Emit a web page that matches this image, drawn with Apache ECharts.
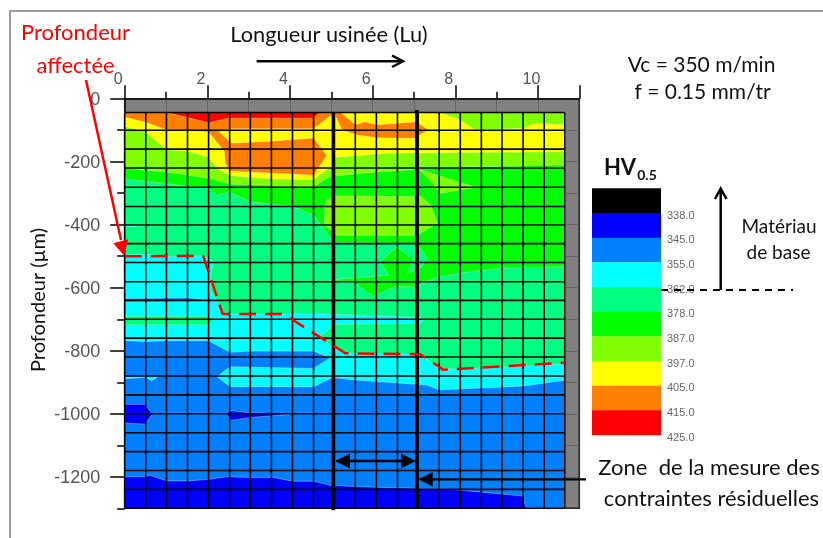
<!DOCTYPE html>
<html>
<head>
<meta charset="utf-8">
<style>html,body{margin:0;padding:0;background:#fff}#c{width:823px;height:538px}</style>
<script src="https://cdn.jsdelivr.net/npm/echarts@6/dist/echarts.min.js"></script>
</head>
<body>
<div id="c"></div>
<script>
// Hardness scale
const legendColors = ['#000000','#0000ff','#0080ff','#00ffff','#00ff80','#00ff00','#80ff00','#ffff00','#ff8000','#ff0000'];
const legendLabels = ['338.0','345.0','355.0','362.0','378.0','387.0','397.0','405.0','415.0','425.0'];
const legendTicks = [1,2,3,4,5,6,7,8,9,10];

// Axis ticks
const xMajorTicks = [0,2,4,6,8,10,11];
const xMinorTicks = [1,3,5,7,9];
const yMajorTicks = [0,-200,-400,-600,-800,-1000,-1200];
const yMinorTicks = [-100,-300,-500,-700,-900,-1100,-1300];

// Measurement grid
const gridX = [0,0.51,1.01,1.52,2.03,2.54,3.04,3.55,4.06,4.57,5.07,5.58,6.09,6.60,7.10,7.61,8.12,8.63,9.13,9.64,10.15,10.65];
const gridY = [-44,-100,-160,-220,-281,-342,-401,-460,-520,-581,-640,-700,-760,-820,-880,-940,-1000,-1060,-1120,-1180,-1240,-1300];
const topDepth = -44;
const rightEdge = 10.65;

// Lower boundary of each hardness band, left to right (mm, µm)
const floor345 = [[0,-1300],[10.65,-1300]];
const floor355 = [[0,-1200],[.51,-1200],[.61,-1195],[1.02,-1213],[1.53,-1213],[2.03,-1208],[2.47,-1200],[3.04,-1202],[3.60,-1202],[4.06,-1214],[4.57,-1214],[4.97,-1227],[5.58,-1231],[6.83,-1236],[7.92,-1240],[9.62,-1261],[9.71,-1297],[9.72,-1300],[10.65,-1300]];
const floor362 = [[0,-768],[.51,-771],[1.02,-768],[2.03,-768],[2.55,-805],[3.04,-801],[4.57,-801],[4.97,-823],[4.57,-856],[2.55,-851],[2.23,-882],[2.55,-914],[4.57,-914],[4.99,-887],[5.12,-886],[5.58,-893],[7.32,-909],[7.60,-924],[9.66,-912],[10.65,-893]];
const floor378 = [[0,-496],[.51,-494],[1.02,-501],[1.90,-499],[2.15,-517],[2.07,-565],[2.07,-607],[2.31,-660],[2.39,-683],[3.84,-683],[4.73,-683],[7.15,-694],[7.23,-702],[7.15,-713],[5.14,-716],[5.01,-721],[4.73,-755],[5.05,-792],[5.34,-808],[7.15,-810],[7.60,-856],[8.20,-858],[10.65,-842]];
const floor387 = [[0,-255],[.49,-262],[1.54,-278],[2.03,-283],[2.23,-307],[2.51,-296],[3.04,-327],[4.08,-343],[4.57,-369],[5.01,-448],[5.05,-457],[5.80,-457],[7.07,-462],[7.32,-507],[7.19,-533],[6.85,-554],[6.99,-512],[6.59,-470],[6.18,-517],[6.39,-560],[4.93,-575],[5.58,-586],[6.02,-628],[6.51,-597],[7.07,-597],[7.27,-581],[7.60,-565],[8.36,-549],[9.13,-538],[10.65,-533]];
const floor397 = [[0,-220],[1.02,-233],[2.03,-252],[2.55,-271],[3.52,-275],[4.57,-281],[4.89,-252],[5.09,-245],[5.78,-236],[7.07,-224],[8.53,-216],[10.65,-210]];
const floor405 = [[0,-88],[.49,-103],[1.02,-162],[1.54,-167],[2.03,-186],[2.23,-220],[2.55,-244],[3.52,-254],[4.57,-257],[4.89,-225],[5.01,-218],[5.09,-186],[6.35,-173],[8.08,-171],[10.65,-168]];

// Closed patches (mm, µm)
const patchBlueA = [[0,-970],[.49,-970],[.67,-1001],[.49,-1033],[0,-1029]];
const patchBlueB = [[2.45,-998],[2.55,-990],[3.04,-997],[3.98,-1002],[3.04,-1012],[2.57,-1021]];
const patchCyanA = [[0,-884],[.51,-880],[.78,-884],[.65,-895],[.51,-884],[0,-889]];
const patchMidBlue = [[0,-634],[1.51,-632],[2.02,-639],[2.36,-680],[2.02,-644],[0,-645]];
const patchTeal = [[0,-690],[2.03,-690],[2.15,-704],[2.03,-718],[0,-718]];
const patchCyanB = [[0,-401],[.49,-403],[0,-407]];
const patchLimeA = [[4.85,-343],[4.89,-321],[5.14,-309],[7.19,-311],[7.40,-337],[7.57,-395],[7.07,-433],[5.14,-433],[4.83,-401]];
const patchLimeB = [[7.15,-226],[8.49,-281],[7.64,-300],[7.52,-279]];
const patchLimeC = [[7.64,-44],[8.12,-68],[8.49,-99],[9.66,-94],[9.90,-78],[10.65,-83],[10.65,-44]];
const patchOrangeA = [[0,-44],[5.00,-44],[5.01,-51],[4.57,-95],[2.55,-95],[2.29,-106],[2.59,-141],[3.52,-135],[4.57,-125],[4.89,-180],[4.57,-243],[3.52,-236],[2.55,-230],[2.43,-204],[2.41,-167],[2.03,-106],[1.54,-102],[1.02,-99],[.49,-74],[0,-59]];
const patchOrangeB = [[5.09,-44],[5.24,-44],[5.58,-83],[5.82,-73],[6.10,-83],[7.07,-73],[7.35,-99],[6.99,-126],[6.10,-124],[5.62,-115],[5.26,-99],[5.09,-52]];
const patchRed = [[1.02,-44],[2.03,-76],[2.51,-62],[4.57,-62],[4.73,-44]];

// Annotations in data units
const affectedDepth = [[0,-500],[1.90,-499],[2.37,-683],[3.84,-683],[5.34,-808],[7.15,-811],[7.60,-850],[7.70,-860],[10.65,-838]];
const zoneStart = [[5.05,-44],[5.05,-1306]];
const zoneEnd = [[7.07,-36],[7.07,-1300]];

let order = 2;
function poly(points, color) {
  return {
    type: 'custom', coordinateSystem: 'cartesian2d', xAxisIndex: 0, yAxisIndex: 0,
    silent: true, animation: false, clip: false, z: order++, data: [points[0]],
    encode: {x: 0, y: 1},
    renderItem: function (params, api) {
      return {type: 'polygon', shape: {points: points.map(p => api.coord(p))},
        style: {fill: color, stroke: 'rgba(255,255,255,0.35)', lineWidth: 1}};
    }
  };
}
function band(floor, color) {
  return poly(floor.concat([[rightEdge, topDepth], [0, topDepth]]), color);
}
function segments(list, width, color, z) {
  return {
    type: 'custom', coordinateSystem: 'cartesian2d', xAxisIndex: 0, yAxisIndex: 0,
    silent: true, animation: false, clip: false, z: z, data: list,
    encode: {x: [0, 2], y: [1, 3]},
    renderItem: function (params, api) {
      const a = api.coord([api.value(0), api.value(1)]);
      const b = api.coord([api.value(2), api.value(3)]);
      return {type: 'line', shape: {x1: a[0], y1: a[1], x2: b[0], y2: b[1]},
        style: {stroke: color, lineWidth: width}};
    }
  };
}
const c = legendColors;
const series = [
  band(floor345, c[1]),
  band(floor355, c[2]),
  poly(patchBlueA, c[1]), poly(patchBlueB, c[1]), poly(patchCyanA, c[3]),
  band(floor362, c[3]),
  poly(patchMidBlue, c[2]),
  band(floor378, c[4]),
  poly(patchTeal, c[4]), poly(patchCyanB, c[3]),
  band(floor387, c[5]),
  band(floor397, c[6]),
  poly(patchLimeA, c[6]), poly(patchLimeB, c[6]),
  band(floor405, c[7]),
  poly(patchLimeC, c[6]),
  poly(patchOrangeA, c[8]), poly(patchOrangeB, c[8]),
  poly(patchRed, c[9])
];
const vLines = gridX.map(x => [x, gridY[0], x, gridY[gridY.length - 1]]);
const hLines = gridY.map(y => [gridX[0], y, gridX[gridX.length - 1], y]);
series.push(segments(vLines.concat(hLines), 1.6, '#050505', 40));
series.push(segments([zoneStart[0].concat(zoneStart[1]), zoneEnd[0].concat(zoneEnd[1])], 3.6, '#000', 41));
series.push({
  type: 'line', xAxisIndex: 0, yAxisIndex: 0, data: affectedDepth, symbol: 'none', silent: true,
  animation: false, z: 42, clip: false,
  lineStyle: {color: '#ff0000', width: 2.5, type: [17, 9]}
});
// colour scale
series.push({
  type: 'custom', coordinateSystem: 'cartesian2d', xAxisIndex: 2, yAxisIndex: 2, silent: true, animation: false,
  data: legendColors.map((col, i) => [0, i]), encode: {x: 0, y: 1},
  renderItem: function (params, api) {
    const i = api.value(1);
    const a = api.coord([0, i]), b = api.coord([1, i + 1]);
    return {type: 'rect', shape: {x: a[0], y: a[1], width: b[0] - a[0], height: b[1] - a[1] + 0.3},
      style: {fill: legendColors[params.dataIndex]}};
  }
});

const dotted = {show: true, lineStyle: {color: '#4a4a4a', type: 'dotted', width: 1}};
const axisLine = {show: true, onZero: false, lineStyle: {color: '#111', width: 1.5}};
const labelFont = 'Liberation Sans';
const sans = 'Lato';

function text(t, x, y, size, color, extra) {
  return Object.assign({type: 'text', x: x, y: y, z: 100, silent: true,
    style: Object.assign({text: t, fontFamily: sans, fontSize: size, fill: color || '#111', align: 'center', verticalAlign: 'middle'}, extra && extra.style || {})},
    extra && extra.el || {});
}
function seg(x1, y1, x2, y2, w, col, dash) {
  return {type: 'line', z: 100, silent: true, shape: {x1, y1, x2, y2},
    style: {stroke: col || '#000', lineWidth: w, lineDash: dash || null, lineCap: 'butt'}};
}
function tri(pts, col) {
  return {type: 'polygon', z: 100, silent: true, shape: {points: pts}, style: {fill: col || '#000'}};
}
function open(pts) {
  return {type: 'polyline', z: 100, silent: true, shape: {points: pts}, style: {stroke: '#000', lineWidth: 2.5, fill: null}};
}
const graphic = [
  {type: 'polyline', z: 0, silent: true, shape: {points: [[10, 540], [10, 11], [825, 11]]}, style: {stroke: '#9a9a9a', lineWidth: 2, fill: null}},
  text('Profondeur', 75.5, 33, 22, '#ff0000'),
  text('affectée', 75.5, 66, 22, '#ff0000'),
  text('Longueur usinée (Lu)', 329, 35, 21.8, '#111'),
  text('Vc = 350 m/min', 701.5, 65, 21, '#111'),
  text('f = 0.15 mm/tr', 702.5, 92.5, 21, '#111'),
  text('Matériau', 779, 227, 19, '#111'),
  text('de base', 778.5, 253, 19, '#111'),
  text('Zone  de la mesure des', 709, 468, 22, '#111'),
  text('contraintes résiduelles', 711.5, 498.5, 22, '#111'),
  text('Profondeur (µm)', 39, 300, 20, '#111', {el: {rotation: Math.PI / 2}}),
  text('HV', 620, 168, 22, '#111', {style: {fontWeight: 'bold'}}),
  text('0.5', 647, 175, 14, '#111', {style: {fontWeight: 'bold'}}),
  // machining direction
  seg(256.7, 61.3, 402, 61.3, 2.5), open([[392, 55.5], [403, 61.3], [392, 67]]),
  // base material
  seg(720.7, 290, 720.7, 189, 2.5), open([[715, 199], [720.7, 188.5], [726.5, 199]]),
  seg(661, 290, 793, 290, 1.8, '#000', [7, 6]),
  // measurement zone
  seg(345, 461, 405, 461, 2.5), tri([[335, 461], [350, 453.5], [350, 468.5]]), tri([[415.7, 461], [401, 453.5], [401, 468.5]]),
  seg(430, 479.3, 586, 479.3, 2.2), tri([[418.3, 479.3], [432.7, 472], [432.7, 486.5]]),
  // affected depth pointer
  seg(86, 80, 121, 240, 2.5, '#ff0000'), tri([[124, 255.5], [113.3, 243.3], [128.3, 239.3]], '#ff0000')
];

const option = {
  backgroundColor: '#ffffff',
  animation: false,
  graphic: graphic,
  grid: [
    {left: 124.7, top: 98.7, width: 454.6, height: 409.6, show: true, backgroundColor: '#808080', borderColor: '#111', borderWidth: 1.5, containLabel: false},
    {left: 592, top: 188.3, width: 69, height: 246.7, containLabel: false},
    {left: 592, top: 190.8, width: 69, height: 246.7, containLabel: false},
    {left: 124.7, top: 100.2, width: 454.6, height: 409.6, containLabel: false}
  ],
  xAxis: [
    {gridIndex: 0, type: 'value', position: 'top', min: 0, max: 11,
      axisLine: axisLine, axisTick: {show: true, length: 13.5, customValues: xMajorTicks, lineStyle: {color: '#111', width: 1.6}},
      axisLabel: {show: true, customValues: [0,2,4,6,8,10], margin: 11, padding: [0, 13, 0, 0], color: '#555', fontSize: 16, fontFamily: labelFont},
      splitLine: dotted},
    {gridIndex: 0, type: 'value', position: 'top', min: 0, max: 11,
      axisLine: {show: false, onZero: false}, axisTick: {show: true, length: 7, customValues: xMinorTicks, lineStyle: {color: '#111', width: 1.6}},
      axisLabel: {show: false}, splitLine: dotted},
    {gridIndex: 1, type: 'value', min: 0, max: 1, show: false},
    {gridIndex: 2, type: 'value', min: 0, max: 1, show: false},
    {gridIndex: 3, type: 'value', min: 0, max: 11, show: false}
  ],
  yAxis: [
    {gridIndex: 0, type: 'value', position: 'left', min: -1300, max: 0,
      axisLine: axisLine, axisTick: {show: true, length: 14.5, customValues: yMajorTicks, lineStyle: {color: '#111', width: 1.6}},
      axisLabel: {show: false},
      splitLine: dotted},
    {gridIndex: 0, type: 'value', position: 'left', min: -1300, max: 0,
      axisLine: {show: false, onZero: false}, axisTick: {show: true, length: 7.5, customValues: yMinorTicks, lineStyle: {color: '#111', width: 1.6}},
      axisLabel: {show: false}, splitLine: dotted},
    {gridIndex: 1, type: 'value', position: 'right', min: 0, max: 10, inverse: true,
      axisLine: {show: false}, axisTick: {show: false}, splitLine: {show: false}, axisLabel: {show: false}},
    {gridIndex: 2, type: 'value', position: 'right', min: 0, max: 10, inverse: true,
      axisLine: {show: false}, axisTick: {show: false}, splitLine: {show: false},
      axisLabel: {show: true, customValues: legendTicks, margin: 6, color: '#666', fontSize: 11, fontFamily: labelFont,
        formatter: v => legendLabels[v - 1]}},
    {gridIndex: 3, type: 'value', position: 'left', min: -1300, max: 0,
      axisLine: {show: false, onZero: false}, axisTick: {show: false}, splitLine: {show: false},
      axisLabel: {show: true, customValues: yMajorTicks, margin: 24.5, color: '#555', fontSize: 18, fontFamily: labelFont,
        formatter: v => String(v)}}
  ],
  series: series
};
const chart = echarts.init(document.getElementById('c'), null, {renderer: 'canvas'});
chart.setOption(option);
</script>
</body>
</html>
